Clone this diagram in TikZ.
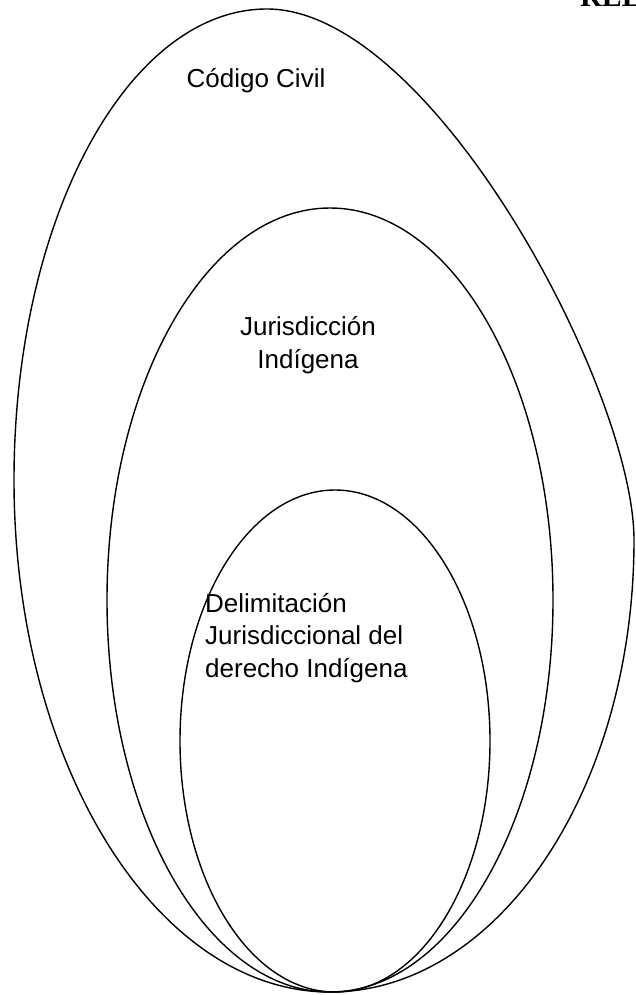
\documentclass[tikz,border=0pt]{standalone}
\usepackage{fontspec}
\setmainfont{Liberation Sans}
\newfontfamily\headfont{Liberation Serif}
\begin{document}
\begin{tikzpicture}[x=1pt,y=-1pt,
  ring/.style={draw=black,line width=1.4pt},
  lbl/.style={inner sep=0pt,font=\fontsize{26}{32.5}\selectfont}]
\useasboundingbox (0,0) rectangle (636,995);
\clip (0,0) rectangle (636,995);
\fill[white] (0,0) rectangle (636,995);
% outer ring (slightly leaning oval)
\draw[ring] (267,9)
  arc[start angle=-90,end angle=-180,x radius=253,y radius=471]
  arc[start angle=180,end angle=90,x radius=316,y radius=512]
  arc[start angle=90,end angle=0,x radius=304,y radius=452]
  .. controls (634,390) and (432,9) .. cycle;
% middle ring
\draw[ring] (330,600) ellipse [x radius=223,y radius=392];
% inner ring
\draw[ring] (335,741) ellipse [x radius=155,y radius=251];
\node[lbl,anchor=base] (cc) at (256,88) {Código Civil};
\node[lbl,anchor=base,align=center] (ji) at (308,368) {Jurisdicción\\Indígena};
\node[lbl,anchor=base west,align=left] (dj) at (205,677) {Delimitación\\Jurisdiccional del\\derecho Indígena};
\node[inner sep=0pt,anchor=base west,font=\headfont\bfseries\fontsize{30}{30}\selectfont] (hd) at (580,7) {RELACIÓN};
\end{tikzpicture}
\end{document}
